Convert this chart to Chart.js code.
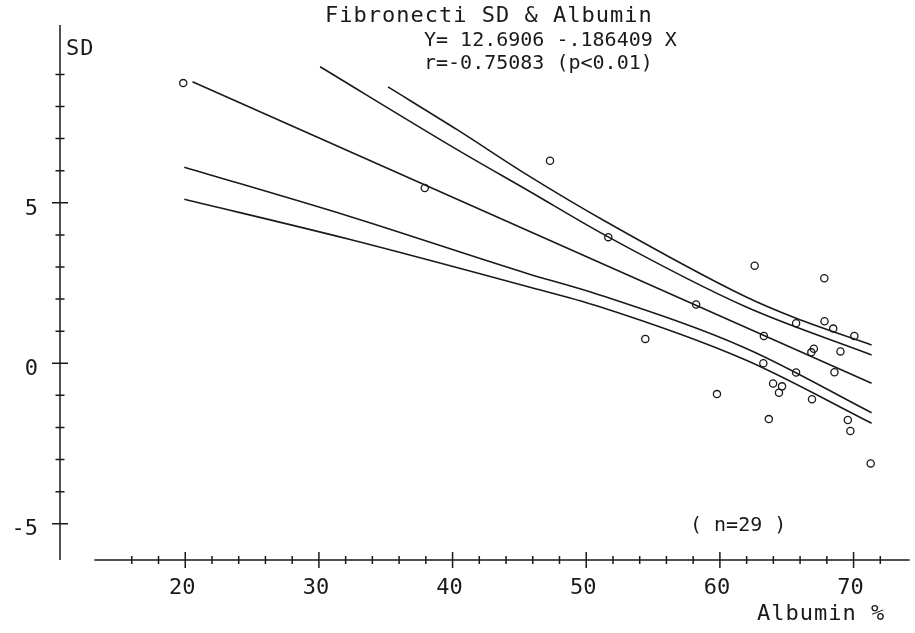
<!DOCTYPE html>
<html>
<head>
<meta charset="utf-8">
<script src="https://cdn.jsdelivr.net/npm/chart.js@4.4.1/dist/chart.umd.min.js"></script>
<style>
  html, body { margin: 0; padding: 0; background: #fff; }
  #wrap { width: 915px; height: 633px; }
</style>
</head>
<body>
<div id="wrap"><canvas id="chart" width="915" height="633"></canvas></div>
<script>
// Fibronectin SD against albumin % (n=29)
const albumin = [19.85, 37.92, 47.29, 51.65, 54.42, 58.22, 59.78, 62.60, 67.81, 65.70,
  67.83, 68.48, 70.06, 63.29, 66.84, 67.03, 69.02, 63.25, 65.70, 68.57,
  63.98, 64.65, 64.42, 66.89, 63.66, 69.57, 69.76, 71.28];
const fibroSD = [8.73, 5.46, 6.31, 3.93, 0.76, 1.83, -0.96, 3.04, 2.65, 1.25,
  1.31, 1.08, 0.85, 0.85, 0.34, 0.45, 0.37, 0.00, -0.29, -0.28,
  -0.63, -0.72, -0.92, -1.12, -1.74, -1.77, -2.11, -3.12];

// regression line Y = 12.6906 - .186409 X (end points as drawn)
const regX = [20.54, 71.35];
const regY = [8.77, -0.62];

// the two upper band curves
const upperOuterX = [35.17, 40.37, 45.58, 51.52, 61.93, 65.70, 71.35];
const upperOuterY = [8.61, 7.27, 5.87, 4.40, 2.07, 1.40, 0.57];
const upperInnerX = [30.09, 40.37, 45.58, 51.67, 61.93, 71.35];
const upperInnerY = [9.24, 6.65, 5.40, 3.93, 1.76, 0.26];

// the two lower band curves
const lowerInnerX = [19.93, 32.19, 45.58, 50.78, 61.93, 71.35];
const lowerInnerY = [6.11, 4.59, 2.80, 2.16, 0.47, -1.54];
const lowerOuterX = [19.93, 32.19, 45.58, 50.78, 61.93, 71.35];
const lowerOuterY = [5.11, 3.87, 2.39, 1.79, 0.10, -1.87];

// axis ticks
const xTickLabels = [20, 30, 40, 50, 60, 70];
const yTickLabels = [5, 0, -5];

const toXY = (xs, ys) => xs.map((v, i) => ({ x: v, y: ys[i] }));

const ink = '#1a1a1a';
const mono = '"DejaVu Sans Mono", "Liberation Mono", monospace';

function lineSet(xs, ys) {
  return {
    data: toXY(xs, ys),
    showLine: true,
    borderColor: ink,
    borderWidth: 1.6,
    pointRadius: 0,
    cubicInterpolationMode: 'monotone',
    fill: false
  };
}

// plotter style axes: detached, ticks crossing the axis line
const plotterAxes = {
  id: 'plotterAxes',
  afterDraw(chart) {
    const { ctx, chartArea: area } = chart;
    const xs = chart.scales.x;
    const ys = chart.scales.y;
    ctx.save();
    ctx.strokeStyle = ink;
    ctx.fillStyle = ink;
    ctx.lineWidth = 1.5;

    // y axis
    const ax = area.left;
    ctx.beginPath();
    ctx.moveTo(ax, area.top);
    ctx.lineTo(ax, area.bottom);
    for (let v = -5; v <= 9; v++) {
      const py = ys.getPixelForValue(v);
      const h = v % 5 === 0 ? 8 : 4.5;
      ctx.moveTo(ax - h, py);
      ctx.lineTo(ax + h, py);
    }
    ctx.stroke();

    // x axis
    const ay = area.bottom;
    ctx.beginPath();
    ctx.moveTo(xs.getPixelForValue(13.2), ay);
    ctx.lineTo(area.right, ay);
    for (let v = 16; v <= 72; v += 2) {
      const px = xs.getPixelForValue(v);
      const h = v % 10 === 0 ? 8 : 4;
      ctx.moveTo(px, ay - h);
      ctx.lineTo(px, ay + h);
    }
    ctx.stroke();

    // tick labels
    ctx.font = '22px ' + mono;
    ctx.textBaseline = 'middle';
    ctx.textAlign = 'center';
    xTickLabels.forEach(v => {
      ctx.fillText(String(v), xs.getPixelForValue(v) - 3, ay + 28);
    });
    ctx.textAlign = 'right';
    yTickLabels.forEach(v => {
      ctx.fillText(String(v), ax - 22, ys.getPixelForValue(v) + 6);
    });

    // titles and notes
    ctx.textAlign = 'left';
    ctx.letterSpacing = '1px';
    ctx.fillText('Fibronecti SD & Albumin', 325, 16);
    ctx.fillText('SD', 66, 49);
    ctx.fillText('Albumin %', 757, 614);
    ctx.letterSpacing = '0px';
    ctx.font = '20px ' + mono;
    ctx.fillText('Y= 12.6906 -.186409 X', 424, 41);
    ctx.fillText('r=-0.75083 (p<0.01)', 424, 64);
    ctx.fillText('( n=29 )', 690, 526);
    ctx.restore();
  }
};

new Chart(document.getElementById('chart'), {
  type: 'scatter',
  data: {
    datasets: [
      {
        data: toXY(albumin, fibroSD),
        pointStyle: 'circle',
        pointRadius: 3.6,
        borderWidth: 1.3,
        borderColor: ink,
        backgroundColor: 'rgba(0,0,0,0)'
      },
      lineSet(regX, regY),
      lineSet(upperOuterX, upperOuterY),
      lineSet(upperInnerX, upperInnerY),
      lineSet(lowerInnerX, lowerInnerY),
      lineSet(lowerOuterX, lowerOuterY)
    ]
  },
  options: {
    responsive: false,
    animation: false,
    devicePixelRatio: 1,
    layout: { padding: { left: 60, right: 0, top: 25, bottom: 73 } },
    scales: {
      x: { type: 'linear', min: 10.63, max: 74.2, display: false },
      y: { type: 'linear', min: -6.13, max: 10.54, display: false }
    },
    plugins: {
      legend: { display: false },
      tooltip: { enabled: false }
    }
  },
  plugins: [plotterAxes]
});
</script>
</body>
</html>
